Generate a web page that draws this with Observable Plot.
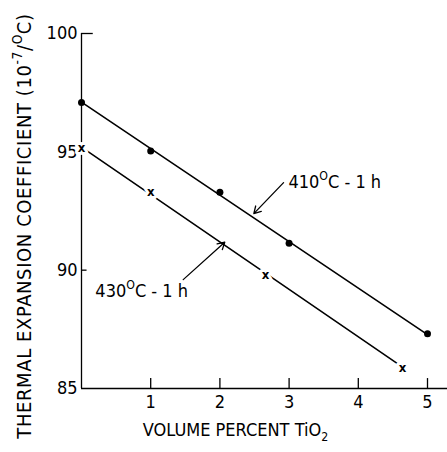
<!DOCTYPE html>
<html><head><meta charset="utf-8">
<script src="https://cdn.jsdelivr.net/npm/d3@7"></script>
<script src="https://cdn.jsdelivr.net/npm/@observablehq/plot@0.6"></script>
<style>
body{margin:0;background:#fff}
svg{display:block}
svg text{font-family:'DejaVu Sans Condensed','DejaVu Sans',sans-serif;font-stretch:condensed}
</style>
</head><body><div id="chart"></div>
<script>
// Series: volume percent TiO2 vs thermal expansion coefficient
const pct410 = [0, 1, 2, 3, 5];
const cte410 = [97.08, 95.03, 93.29, 91.14, 87.31];
const pct430 = [0, 1, 2.66, 4.64];
const cte430 = [95.19, 93.29, 89.82, 85.87];
// fitted lines (end points)
const fitPct410 = [0, 5];
const fitCte410 = [97.1, 87.28];
const fitPct430 = [0, 4.64];
const fitCte430 = [95.2, 85.9];
// ticks
const xTicks = [1, 2, 3, 4, 5];
const yTicks = [85, 90, 95, 100];
// annotations
const annText = ["410{^O}C - 1 h", "430{^O}C - 1 h"];
const annPct = [2.99, 0.2];
const annCte = [93.70, 89.1];
const arrowFromPct = [2.92, 1.47];
const arrowFromCte = [93.70, 89.6];
const arrowToPct = [2.49, 2.07];
const arrowToCte = [92.39, 91.18];
const xLabel = "VOLUME PERCENT TiO{_2}";
const yLabel = "THERMAL EXPANSION COEFFICIENT (10{^-7}/{^O}C)";

const s410 = pct410.map((x, i) => ({x, y: cte410[i]}));
const s430 = pct430.map((x, i) => ({x, y: cte430[i]}));
const f410 = fitPct410.map((x, i) => ({x, y: fitCte410[i]}));
const f430 = fitPct430.map((x, i) => ({x, y: fitCte430[i]}));
const ann = annText.map((t, i) => ({t, x: annPct[i], y: annCte[i]}));
const arrows = arrowFromPct.map((x1, i) => ({x1, y1: arrowFromCte[i], x2: arrowToPct[i], y2: arrowToCte[i]}));

const chart = Plot.plot({
  width: 447,
  height: 452,
  marginLeft: 81,
  marginRight: 20,
  marginTop: 33,
  marginBottom: 64,
  style: {background: "white", color: "black"},
  x: {domain: [0, 5]},
  y: {domain: [85, 100]},
  marks: [
    Plot.axisX({ticks: xTicks, tickFormat: "d", tickSize: 0, tickPadding: 7, fontSize: 18, label: null}),
    Plot.axisY({ticks: yTicks, tickFormat: "d", tickSize: 0, tickPadding: 4, fontSize: 18, label: null}),
    Plot.ruleX([0], {y1: 85, y2: 100, strokeWidth: 1.3}),
    Plot.ruleY([85], {x1: 0, x2: 5.29, strokeWidth: 1.3}),
    Plot.ruleX(xTicks, {y1: 85, y2: 85.42, strokeWidth: 1.3}),
    Plot.ruleY(yTicks.filter(v => v === 100), {x1: 0, x2: 0.17, strokeWidth: 1.3}),
    Plot.ruleY(yTicks.filter(v => v === 90 || v === 95), {x1: 0, x2: 0.08, strokeWidth: 1.3}),
    Plot.line(f410, {x: "x", y: "y", strokeWidth: 1.6}),
    Plot.line(f430, {x: "x", y: "y", strokeWidth: 1.6}),
    Plot.text(s430, {x: "x", y: "y", text: () => "x", fontSize: 13, fontWeight: "bold", fill: "black", stroke: "white", strokeWidth: 6}),
    Plot.dot(s410, {x: "x", y: "y", r: 3.5, fill: "black"}),
    Plot.arrow(arrows, {x1: "x1", y1: "y1", x2: "x2", y2: "y2", headLength: 9, strokeWidth: 1.3}),
    Plot.text(ann, {x: "x", y: "y", text: "t", textAnchor: "start", fontSize: 18}),
    Plot.text([xLabel], {frameAnchor: "bottom", textAnchor: "middle", dx: -19, dy: 47, fontSize: 18}),
    Plot.text([yLabel], {frameAnchor: "left", textAnchor: "middle", rotate: -90, dx: -57, dy: 15, fontSize: 20})
  ]
});

document.getElementById("chart").appendChild(chart);

// rich text: {^..} superscript, {_..} subscript
chart.querySelectorAll("text").forEach(el => {
  const s = el.textContent;
  if (!s.includes("{")) return;
  if (s.startsWith("THERMAL")) el.style.letterSpacing = "0.6px";
  const fs = parseFloat(getComputedStyle(el).fontSize) || 16;
  const parts = s.split(/(\{[\^_][^}]*\})/).filter(p => p.length);
  el.textContent = "";
  let shift = 0;
  parts.forEach(p => {
    const ts = document.createElementNS("http://www.w3.org/2000/svg", "tspan");
    let target = 0;
    let txt = p;
    if (p.startsWith("{^")) { target = -0.45 * fs; txt = p.slice(2, -1); ts.setAttribute("font-size", (0.68 * fs) + "px"); }
    else if (p.startsWith("{_")) { target = 0.3 * fs; txt = p.slice(2, -1); ts.setAttribute("font-size", (0.68 * fs) + "px"); }
    const d = target - shift;
    if (d !== 0) ts.setAttribute("dy", d + "px");
    shift = target;
    ts.textContent = txt;
    el.appendChild(ts);
  });
});
</script></body></html>
